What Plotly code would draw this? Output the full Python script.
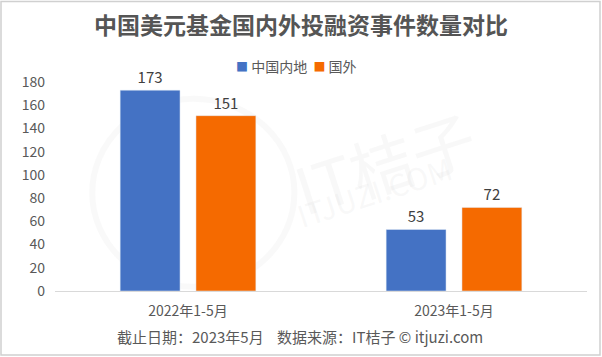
import plotly.graph_objects as go

categories = ["2022年1-5月", "2023年1-5月"]
series_names = ["中国内地", "国外"]
mainland = [173, 53]
foreign = [151, 72]
colors = ["#4472C4", "#F56A00"]
yticks = [0, 20, 40, 60, 80, 100, 120, 140, 160, 180]

FONT = "Microsoft YaHei, Noto Sans CJK SC, sans-serif"

fig = go.Figure()
for name, vals, c in zip(series_names, [mainland, foreign], colors):
    fig.add_trace(go.Bar(
        x=categories, y=vals, name=name, marker_color=c,
        text=[str(v) for v in vals], textposition="outside",
        textfont=dict(size=15, color="#404040"), cliponaxis=False,
    ))

fig.update_layout(
    width=602, height=357,
    margin=dict(l=55, r=15, t=82, b=66, autoexpand=False),
    paper_bgcolor="white", plot_bgcolor="white",
    font=dict(family=FONT, color="#595959", size=14),
    barmode="group", bargap=0.43, bargroupgap=0.21,
    title=dict(text="<b>中国美元基金国内外投融资事件数量对比</b>", x=0.5, xanchor="center",
               y=1 - 26 / 357, yanchor="middle", font=dict(size=23, color="#555555")),
    showlegend=False,
    xaxis=dict(showline=True, linecolor="#D9D9D9", linewidth=1, ticks="",
               tickfont=dict(size=14, color="#595959"), showgrid=False, ticklabelstandoff=7),
    yaxis=dict(range=[0, 180], tickvals=yticks, showgrid=False, zeroline=False,
               showline=False, tickfont=dict(size=14, color="#595959"), ticks="",
               ticklabelstandoff=9),
)

# legend (custom, compact like the reference)
legend_text = "  ".join(
    f"<span style='color:{c};font-size:12px'>■</span> {n}" for n, c in zip(series_names, colors)
)
fig.add_annotation(xref="paper", yref="paper", x=(296 - 55) / 532, xanchor="center",
                   y=(291 - 66) / 209, yanchor="middle", text=legend_text, showarrow=False,
                   font=dict(size=14, color="#595959"))

# watermark
fig.add_annotation(xref="paper", yref="paper", x=0.62, y=0.62, text="IT桔子", showarrow=False,
                   font=dict(size=64, color="rgba(200,200,200,0.12)"), textangle=-18)
fig.add_annotation(xref="paper", yref="paper", x=0.6, y=0.25, text="ITJUZI.COM", showarrow=False,
                   font=dict(size=30, color="rgba(200,200,200,0.12)"), textangle=-18)
fig.add_shape(type="circle", xref="paper", yref="paper", x0=0.07, x1=0.45, y0=0.02, y1=0.92,
              line=dict(color="rgba(200,200,200,0.1)", width=6), layer="below")

# footer
fig.add_annotation(xref="paper", yref="paper", x=(300 - 55) / 532, xanchor="center",
                   y=(291 - 336) / 209, yanchor="middle",
                   text="截止日期：2023年5月    数据来源：IT桔子 © itjuzi.com", showarrow=False,
                   font=dict(size=15, color="#595959"))

# border
fig.add_shape(type="rect", xref="paper", yref="paper",
              x0=(1 - 55) / 532, x1=(600 - 55) / 532, y0=(291 - 355) / 209, y1=(291 - 1.5) / 209,
              line=dict(color="#D0D0D0", width=1.5))

fig.write_html("out.html", post_script="document.body.style.margin='0';",
               config={"displayModeBar": False})
